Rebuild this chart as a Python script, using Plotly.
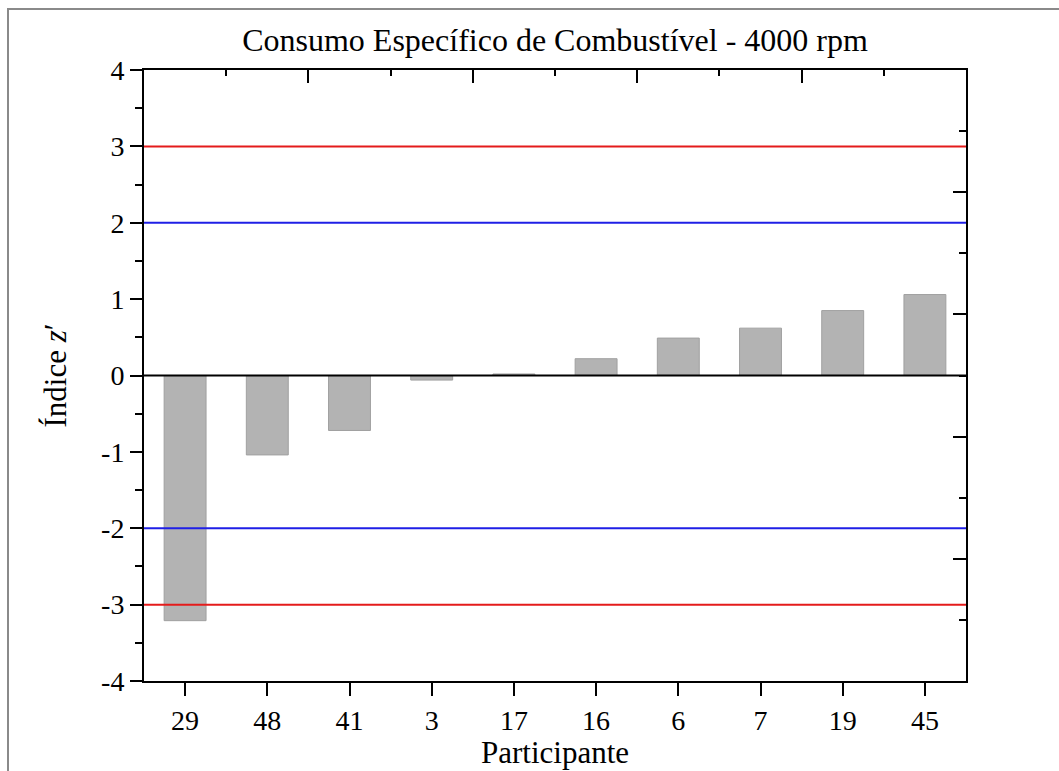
import plotly.graph_objects as go

participants = ["29", "48", "41", "3", "17", "16", "6", "7", "19", "45"]
z_values = [-3.21, -1.04, -0.72, -0.06, 0.02, 0.22, 0.49, 0.62, 0.85, 1.06]
limit_values = [3, 2, -2, -3]
limit_colors = ["#e41b1b", "#1f1fe6", "#1f1fe6", "#e41b1b"]
y_ticks = [-4, -3, -2, -1, 0, 1, 2, 3, 4]
right_major = [-2.4, -0.8, 0.8, 2.4]
right_minor = [-3.2, -1.6, 0, 1.6, 3.2]
top_major = [1.5, 3.5, 5.5, 7.5]
top_minor = [0.5, 2.5, 4.5, 6.5, 8.5]

FONT = "Liberation Serif"
W, H = 1059, 771
L, R, T, B = 144, 966, 70, 681

fig = go.Figure()
fig.add_trace(go.Bar(
    x=participants, y=z_values, width=0.51,
    marker=dict(color="#b3b3b3", line=dict(color="#a0a0a0", width=1)),
    showlegend=False, hoverinfo="x+y",
))
# invisible trace to instantiate the mirrored (top/right) axes
fig.add_trace(go.Scatter(x=[0, 9], y=[0, 0], xaxis="x2", yaxis="y2",
                         mode="markers", marker=dict(opacity=0), showlegend=False,
                         hoverinfo="skip"))

for v, c in zip(limit_values, limit_colors):
    fig.add_hline(y=v, line=dict(color=c, width=2), layer="above")
fig.add_hline(y=0, line=dict(color="black", width=2), layer="above")

axis_common = dict(showline=True, linecolor="black", linewidth=2, showgrid=False,
                   zeroline=False, tickcolor="black", tickwidth=2)

fig.update_layout(
    width=W, height=H, autosize=False,
    margin=dict(l=L, r=W - R, t=T, b=H - B),
    plot_bgcolor="white", paper_bgcolor="white",
    font=dict(family=FONT, color="black", size=28),
    title=dict(text="Consumo Específico de Combustível - 4000 rpm",
               x=(L + R) / 2 / W, xanchor="center", xref="container",
               y=1 - 40 / H, yanchor="middle", yref="container",
               font=dict(family=FONT, size=32, color="black")),
    bargap=0.49,
    xaxis=dict(**axis_common, type="category", categoryorder="array",
               categoryarray=participants, range=[-0.5, 9.5],
               ticks="outside", ticklen=13,
               tickfont=dict(family=FONT, size=28, color="black")),
    xaxis2=dict(**axis_common, overlaying="x", side="top", range=[-0.5, 9.5],
                tickmode="array", tickvals=top_major, ticks="inside", ticklen=13,
                showticklabels=False,
                minor=dict(tickmode="array", tickvals=top_minor, ticks="inside",
                           ticklen=6, tickwidth=2, tickcolor="black")),
    yaxis=dict(**axis_common, range=[-4, 4], tickmode="array", tickvals=y_ticks,
               ticktext=[str(v) for v in y_ticks],
               ticks="outside", ticklen=12,
               tickfont=dict(family=FONT, size=28, color="black"),
               minor=dict(tickmode="linear", tick0=0, dtick=0.5, ticks="outside",
                          ticklen=7, tickwidth=2, tickcolor="black")),
    yaxis2=dict(**axis_common, overlaying="y", side="right", range=[-4, 4],
                tickmode="array", tickvals=right_major, ticks="inside", ticklen=13,
                showticklabels=False,
                minor=dict(tickmode="array", tickvals=right_minor, ticks="inside",
                           ticklen=7, tickwidth=2, tickcolor="black")),
)

# axis titles
fig.add_annotation(text="Participante", xref="paper", yref="paper",
                   x=0.5, y=(B - 752) / (B - T), xanchor="center", yanchor="middle",
                   showarrow=False, font=dict(family=FONT, size=31, color="black"))
fig.add_annotation(text="Índice <i>z</i>′", xref="paper", yref="paper",
                   x=(55 - L) / (R - L), y=0.5, xanchor="center", yanchor="middle",
                   textangle=-90, showarrow=False,
                   font=dict(family=FONT, size=31, color="black"))

# outer frame of the figure
fig.add_shape(type="rect", xref="paper", yref="paper",
              x0=(8 - L) / (R - L), x1=(1075 - L) / (R - L),
              y0=(B - 800) / (B - T), y1=(B - 9) / (B - T),
              line=dict(color="#8a8a8a", width=2), fillcolor="rgba(0,0,0,0)",
              layer="below")

fig.write_html("out.html")
